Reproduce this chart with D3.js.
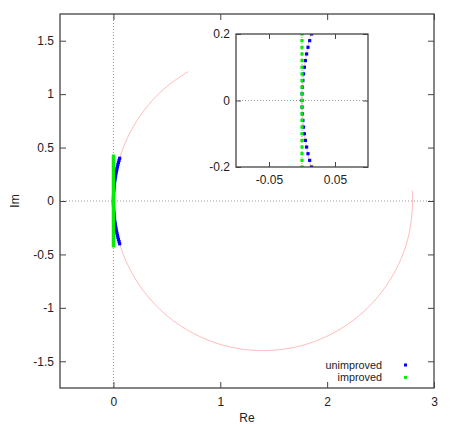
<!DOCTYPE html>
<html>
<head>
<meta charset="utf-8">
<script src="https://cdn.jsdelivr.net/npm/d3@7"></script>
<style>
  body { margin: 0; background: #fff; }
  text { font-family: "Liberation Sans", Arial, sans-serif; font-size: 12px; fill: #222; }
</style>
</head>
<body>
<script>
// red curve (Re, Im), read along the arc
var curveRe = [0.700, 0.500, 0.328, 0.188, 0.084, 0.021, 0.0053, 0, 0.0053, 0.021, 0.084, 0.188, 0.328,
               0.500, 0.700, 0.921, 1.157, 1.400, 1.643, 1.879, 2.100, 2.300, 2.472, 2.612, 2.716, 2.779, 2.800, 2.797];
var curveIm = [1.212, 1.072, 0.900, 0.700, 0.479, 0.243, 0.122, 0, -0.122, -0.243, -0.479, -0.700, -0.900,
               -1.072, -1.212, -1.316, -1.379, -1.400, -1.379, -1.316, -1.212, -1.072, -0.900, -0.700, -0.479, -0.243, 0, 0.098];

// unimproved points
var unImp = [-0.40, -0.38, -0.36, -0.34, -0.32, -0.30, -0.28, -0.26, -0.24, -0.22, -0.20, -0.18, -0.16, -0.14,
             -0.12, -0.10, -0.08, -0.06, -0.04, -0.02, 0, 0.02, 0.04, 0.06, 0.08, 0.10, 0.12, 0.14, 0.16, 0.18,
             0.20, 0.22, 0.24, 0.26, 0.28, 0.30, 0.32, 0.34, 0.36, 0.38, 0.40];
var unRe = [0.0584, 0.0526, 0.0471, 0.0419, 0.0371, 0.0325, 0.0283, 0.0244, 0.0207, 0.0174, 0.0144, 0.0116,
            0.0091, 0.0070, 0.0051, 0.0036, 0.0023, 0.0013, 0.0006, 0.0001, 0, 0.0001, 0.0006, 0.0013, 0.0023,
            0.0036, 0.0051, 0.0070, 0.0091, 0.0116, 0.0144, 0.0174, 0.0207, 0.0244, 0.0283, 0.0325, 0.0371,
            0.0419, 0.0471, 0.0526, 0.0584];

// improved points
var impIm = [-0.42, -0.40, -0.38, -0.36, -0.34, -0.32, -0.30, -0.28, -0.26, -0.24, -0.22, -0.20, -0.18, -0.16,
             -0.14, -0.12, -0.10, -0.08, -0.06, -0.04, -0.02, 0, 0.02, 0.04, 0.06, 0.08, 0.10, 0.12, 0.14, 0.16,
             0.18, 0.20, 0.22, 0.24, 0.26, 0.28, 0.30, 0.32, 0.34, 0.36, 0.38, 0.40, 0.42];
var impRe = impIm.map(function() { return 0; });

var xTicks = [0, 1, 2, 3];
var yTicks = [-1.5, -1, -0.5, 0, 0.5, 1, 1.5];
var insetXTicks = [-0.05, 0.05];
var insetYTicks = [-0.2, 0, 0.2];

var curve = curveRe.map(function(d, i) { return [d, curveIm[i]]; });
var blue = unRe.map(function(d, i) { return [d, unImp[i]]; });
var green = impRe.map(function(d, i) { return [d, impIm[i]]; });

var svg = d3.select("body").append("svg")
    .attr("width", 471)
    .attr("height", 424);

var defs = svg.append("defs");

function panel(xs, ys, id, tickLen, pad, opts) {
    var x0 = xs.range()[0], x1 = xs.range()[1], y0 = ys.range()[1], y1 = ys.range()[0];
    var g = svg.append("g");

    if (opts.bg) {
        g.append("rect").attr("x", x0).attr("y", y0).attr("width", x1 - x0).attr("height", y1 - y0)
            .attr("fill", "#fff");
    }

    defs.append("clipPath").attr("id", id).append("rect")
        .attr("x", x0).attr("y", y0).attr("width", x1 - x0).attr("height", y1 - y0);

    // zero lines
    g.append("line").attr("x1", x0).attr("x2", x1).attr("y1", ys(0)).attr("y2", ys(0))
        .attr("stroke", "#999").attr("stroke-dasharray", "1,2");
    g.append("line").attr("x1", xs(0)).attr("x2", xs(0)).attr("y1", y0).attr("y2", y1)
        .attr("stroke", "#999").attr("stroke-dasharray", "1,2");

    var plot = g.append("g").attr("clip-path", "url(#" + id + ")");

    var line = d3.line()
        .x(function(d) { return xs(d[0]); })
        .y(function(d) { return ys(d[1]); })
        .curve(d3.curveCatmullRom);

    plot.append("path").datum(curve).attr("d", line)
        .attr("fill", "none").attr("stroke", "#ffb4b4").attr("stroke-width", 0.9);

    plot.selectAll(".b").data(blue).enter().append("rect")
        .attr("x", function(d) { return xs(d[0]) - 1.6; })
        .attr("y", function(d) { return ys(d[1]) - 1.6; })
        .attr("width", 3.2).attr("height", 3.2).attr("fill", "#0000ff");

    plot.selectAll(".g").data(green).enter().append("rect")
        .attr("x", function(d) { return xs(d[0]) - 1.6; })
        .attr("y", function(d) { return ys(d[1]) - 1.6; })
        .attr("width", 3.2).attr("height", 3.2).attr("fill", "#00ee00");

    // axes with inward ticks
    var ax = g.append("g").attr("transform", "translate(0," + y1 + ")")
        .call(d3.axisBottom(xs).tickValues(opts.xt).tickSize(-tickLen).tickPadding(pad)
            .tickFormat(function(d) { return d; }));
    var axTop = g.append("g").attr("transform", "translate(0," + y0 + ")")
        .call(d3.axisTop(xs).tickValues(opts.xt).tickSize(-tickLen).tickFormat(""));
    var ay = g.append("g").attr("transform", "translate(" + x0 + ",0)")
        .call(d3.axisLeft(ys).tickValues(opts.yt).tickSize(-tickLen).tickPadding(6)
            .tickFormat(function(d) { return d; }));
    var ayR = g.append("g").attr("transform", "translate(" + x1 + ",0)")
        .call(d3.axisRight(ys).tickValues(opts.yt).tickSize(-tickLen).tickFormat(""));

    [ax, axTop, ay, ayR].forEach(function(a) {
        a.select(".domain").remove();
        a.selectAll("line").attr("stroke", "#444");
        a.selectAll("text").attr("fill", "#222").attr("font-size", 12)
            .attr("font-family", "Liberation Sans, Arial, sans-serif");
    });

    g.append("rect").attr("x", x0).attr("y", y0).attr("width", x1 - x0).attr("height", y1 - y0)
        .attr("fill", "none").attr("stroke", "#444").attr("stroke-width", 1.3);
}

// main plot
var x = d3.scaleLinear().domain([-0.5, 3]).range([60, 434]);
var y = d3.scaleLinear().domain([-1.75, 1.75]).range([388, 14]);
panel(x, y, "clipMain", 6, 9, { xt: xTicks, yt: yTicks });

// inset
var xi = d3.scaleLinear().domain([-0.1, 0.1]).range([236, 368]);
var yi = d3.scaleLinear().domain([-0.2, 0.2]).range([167, 34]);
panel(xi, yi, "clipInset", 5, 8, { xt: insetXTicks, yt: insetYTicks, bg: true });

// axis labels
svg.append("text").attr("x", 247).attr("y", 422).attr("text-anchor", "middle").text("Re");
svg.append("text").attr("transform", "translate(19,201) rotate(-90)")
    .attr("text-anchor", "middle").text("Im");

// legend
var legend = [["unimproved", "#0000ff"], ["improved", "#00ee00"]];
legend.forEach(function(l, i) {
    svg.append("text").attr("x", 382).attr("y", 369 + i * 12.4).attr("text-anchor", "end")
        .style("font-size", "10.8px").text(l[0]);
    svg.append("rect").attr("x", 404).attr("y", 363.5 + i * 12.4).attr("width", 3).attr("height", 3)
        .attr("fill", l[1]);
});
</script>
</body>
</html>
